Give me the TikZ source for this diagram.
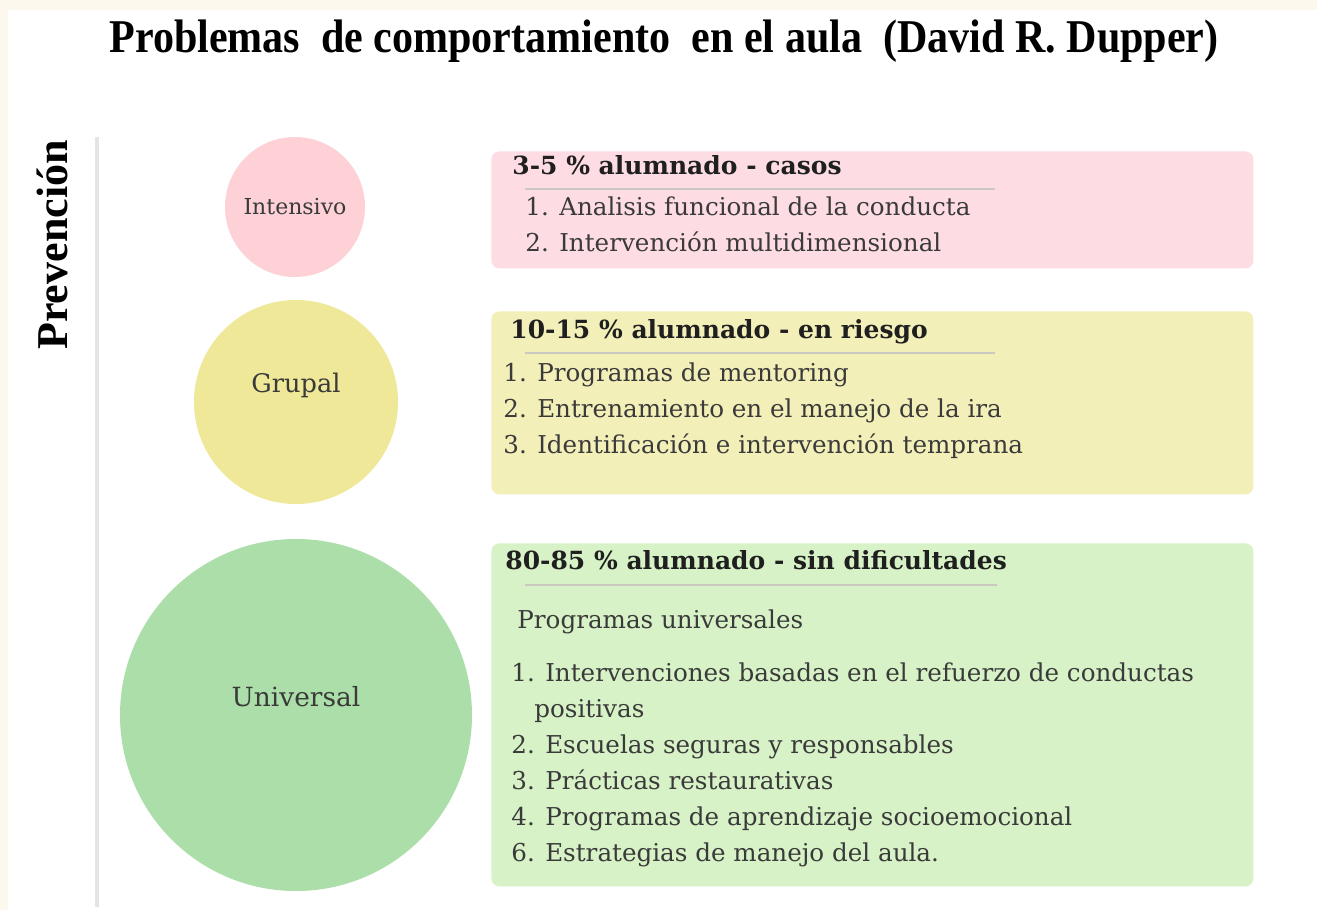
\documentclass[tikz,border=0pt]{standalone}
\usepackage{fontspec}
\setmainfont{DejaVu Serif}
\newfontfamily\titlefont{Liberation Serif}
\usetikzlibrary{positioning}
\definecolor{cream}{HTML}{FDF8EE}
\definecolor{pinkc}{HTML}{FDD1D6}
\definecolor{pinkb}{HTML}{FDDDE3}
\definecolor{yellowc}{HTML}{EFE898}
\definecolor{yellowb}{HTML}{F3EFB8}
\definecolor{greenc}{HTML}{ABDEA8}
\definecolor{greenb}{HTML}{D7F2C6}
\definecolor{axisgray}{HTML}{E4E4E4}
\definecolor{rulegray}{HTML}{C9C9C0}
\definecolor{ink}{HTML}{3A3A3A}
\begin{document}
\begin{tikzpicture}[x=0.5pt,y=-0.5pt,
level/.style={circle,inner sep=0pt},
levelname/.style={inner sep=0pt,text=ink},
panel/.style={rounded corners=4pt,anchor=north west,inner sep=0pt,minimum width=381pt},
head/.style={anchor=west,inner sep=0pt,text=black!88,font=\bfseries\fontsize{12.5}{14}\selectfont,text height=1.5ex,text depth=.25ex},
item/.style={anchor=west,inner sep=0pt,text=ink,font=\fontsize{12.3}{14}\selectfont,text height=1.5ex,text depth=.25ex}]
\useasboundingbox (0,0) rectangle (1317,910);
\fill[cream] (0,0) rectangle (1317,910);
\fill[white] (8,10) rectangle (1317,910);
\node[inner sep=0pt] (title) at (664,41) {\scalebox{0.895}[1]{\titlefont\bfseries\fontsize{23.5}{26}\selectfont Problemas\ \ de comportamiento\ \ en el aula\ \ (David R. Dupper)}};
\node[rotate=90,inner sep=0pt] (prev) at (52,245) {\titlefont\bfseries\fontsize{22}{24}\selectfont Prevención};
\draw[axisgray,line width=2pt] (97,137) -- (97,907);
% niveles
\node[level,fill=pinkc,minimum size=70pt] (intensivo) at (295,207) {};
\node[level,fill=yellowc,minimum size=102pt] (grupal) at (296,402) {};
\node[level,fill=greenc,minimum size=176pt] (universal) at (296,715) {};
\node[levelname,font=\fontsize{11}{13}\selectfont] (intensivoT) at (intensivo) {Intensivo};
\node[levelname,font=\fontsize{12.8}{14}\selectfont] (grupalT) at ([yshift=8.5pt]grupal.center) {Grupal};
\node[levelname,font=\fontsize{13.2}{15}\selectfont] (universalT) at ([yshift=9pt]universal.center) {Universal};
% cajas
\node[panel,fill=pinkb,minimum height=58.5pt] (boxI) at (491,151) {};
\node[panel,fill=yellowb,minimum height=91.5pt] (boxG) at (491,311) {};
\node[panel,fill=greenb,minimum height=171.5pt] (boxU) at (491,543) {};
\node[head] (headI) at (512,168) {3-5 \% alumnado - casos};
\draw[rulegray,line width=0.6pt] (525,189) -- (995,189);
\foreach \t [count=\i] in {Analisis funcional de la conducta,Intervención multidimensional}{
\node[item] (itemI\i) at (525,173+36*\i) {\i. \t};
}
\node[head] (headG) at (510,332) {10-15 \% alumnado - en riesgo};
\draw[rulegray,line width=0.6pt] (525,353) -- (995,353);
\foreach \t [count=\i] in {Programas de mentoring,Entrenamiento en el manejo de la ira,Identificación e intervención temprana}{
\node[item] (itemG\i) at (503,339+36*\i) {\i. \t};
}
\node[head] (headU) at (505,563) {80-85 \% alumnado - sin dificultades};
\draw[rulegray,line width=0.6pt] (525,585) -- (997,585);
\node[item] (progU) at (517,622) {Programas universales};
\node[item] (itemU1) at (511,675) {1. Intervenciones basadas en el refuerzo de conductas};
\node[item] (itemU1b) at (534,711) {positivas};
\node[item] (itemU2) at (511,747) {2. Escuelas seguras y responsables};
\node[item] (itemU3) at (511,783) {3. Prácticas restaurativas};
\node[item] (itemU4) at (511,819) {4. Programas de aprendizaje socioemocional};
\node[item] (itemU6) at (511,855) {6. Estrategias de manejo del aula.};
\end{tikzpicture}
\end{document}
